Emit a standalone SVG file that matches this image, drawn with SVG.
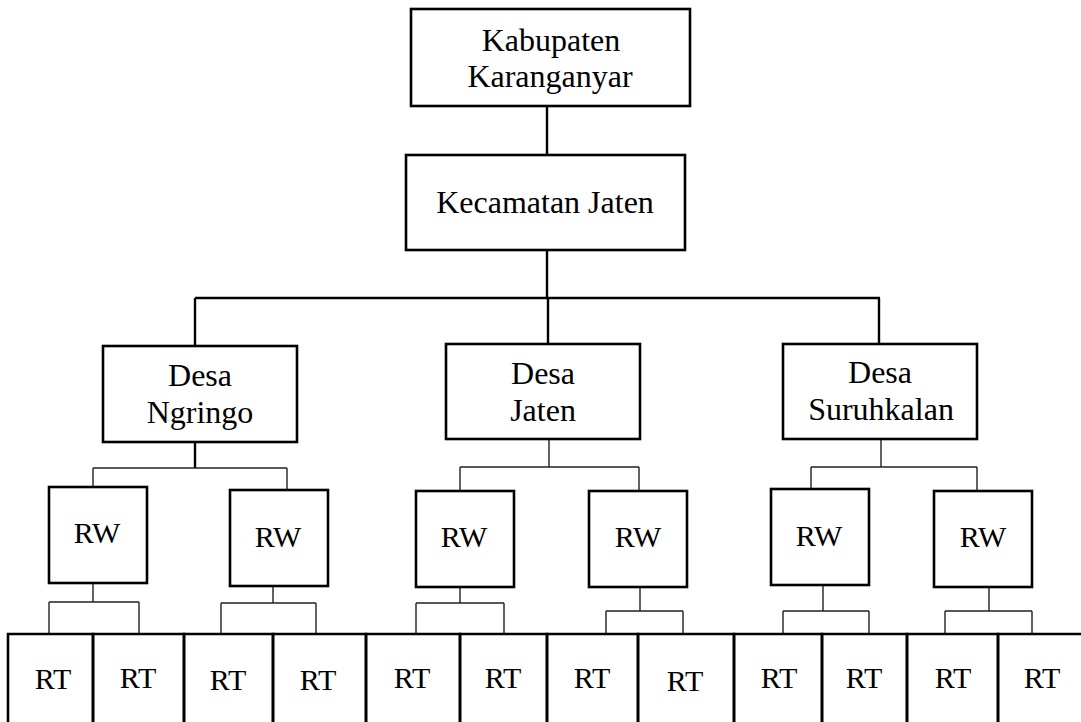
<svg xmlns="http://www.w3.org/2000/svg" width="1081" height="722" viewBox="0 0 1081 722">
<style>
.box{fill:#fff;stroke:#000;stroke-width:2.6}
.cell{fill:none;stroke:#000;stroke-width:2.6}
.thick{fill:none;stroke:#000;stroke-width:2.4}
.thin{fill:none;stroke:#222;stroke-width:1.4}
text{font-family:"Liberation Serif","Times New Roman",serif;fill:#000;text-anchor:middle}
.big{font-size:32px}
.sm{font-size:30px}
</style>
<rect width="1081" height="722" fill="#fff"/>
<g id="connectors">
<path class="thick" d="M547 106V155M547 250V298M195 298H880M195 298V346M548 298V344M879 298V344"/>
<path class="thick" d="M195 442V468"/>
<path class="thin" d="M93 468H287M93 468V487M287 468V490"/>
<path class="thin" d="M549 439V467M460 467H639M460 467V491M639 467V491"/>
<path class="thin" d="M881 439V467M811 467H977M811 467V489M977 467V491"/>
<path class="thin" d="M93 583V602M49 602H139M49 602V634M139 602V634"/>
<path class="thin" d="M273 586V603M221 603H316M221 603V634M316 603V634"/>
<path class="thin" d="M460 587V603M416 603H504M416 603V634M504 603V634"/>
<path class="thin" d="M640 587V611M606 611H683M606 611V634M683 611V634"/>
<path class="thin" d="M823 585V611M783 611H869M783 611V634M869 611V634"/>
<path class="thin" d="M989 587V611M945 611H1032M945 611V634M1032 611V634"/>
</g>
<g id="kabupaten">
<rect class="box" x="411" y="9" width="279" height="97"/>
<text class="big" x="551" y="51">Kabupaten</text>
<text class="big" x="550" y="87">Karanganyar</text>
</g>
<g id="kecamatan">
<rect class="box" x="406" y="155" width="279" height="95"/>
<text class="big" x="545" y="213">Kecamatan Jaten</text>
</g>
<g id="desa-ngringo">
<rect class="box" x="103" y="346" width="194" height="96"/>
<text class="big" x="200" y="386">Desa</text>
<text class="big" x="200" y="423">Ngringo</text>
</g>
<g id="desa-jaten">
<rect class="box" x="446" y="344" width="194" height="95"/>
<text class="big" x="543" y="384">Desa</text>
<text class="big" x="543" y="421">Jaten</text>
</g>
<g id="desa-suruhkalan">
<rect class="box" x="783" y="344" width="194" height="95"/>
<text class="big" x="880" y="383">Desa</text>
<text class="big" x="881" y="420">Suruhkalan</text>
</g>
<g id="rw1"><rect class="box" x="49" y="487" width="98" height="96"/><text class="sm" x="97" y="543">RW</text></g>
<g id="rw2"><rect class="box" x="230" y="490" width="98" height="96"/><text class="sm" x="278" y="547">RW</text></g>
<g id="rw3"><rect class="box" x="416" y="491" width="98" height="96"/><text class="sm" x="464" y="547">RW</text></g>
<g id="rw4"><rect class="box" x="589" y="491" width="98" height="96"/><text class="sm" x="638" y="547">RW</text></g>
<g id="rw5"><rect class="box" x="771" y="489" width="98" height="96"/><text class="sm" x="819" y="546">RW</text></g>
<g id="rw6"><rect class="box" x="934" y="491" width="98" height="96"/><text class="sm" x="983" y="547">RW</text></g>
<g id="rt1"><path class="cell" d="M8 723V634H93V723"/><text class="sm" x="53" y="689">RT</text></g>
<g id="rt2"><path class="cell" d="M93 723V634H184V723"/><text class="sm" x="138" y="688">RT</text></g>
<g id="rt3"><path class="cell" d="M184 723V634H273V723"/><text class="sm" x="228" y="690">RT</text></g>
<g id="rt4"><path class="cell" d="M273 723V634H366V723"/><text class="sm" x="318" y="690">RT</text></g>
<g id="rt5"><path class="cell" d="M366 723V634H460V723"/><text class="sm" x="412" y="688">RT</text></g>
<g id="rt6"><path class="cell" d="M460 723V634H547V723"/><text class="sm" x="503" y="688">RT</text></g>
<g id="rt7"><path class="cell" d="M547 723V634H638V723"/><text class="sm" x="592" y="688">RT</text></g>
<g id="rt8"><path class="cell" d="M638 723V634H734V723"/><text class="sm" x="685" y="691">RT</text></g>
<g id="rt9"><path class="cell" d="M734 723V634H822V723"/><text class="sm" x="779" y="688">RT</text></g>
<g id="rt10"><path class="cell" d="M822 723V634H907V723"/><text class="sm" x="864" y="688">RT</text></g>
<g id="rt11"><path class="cell" d="M907 723V634H998V723"/><text class="sm" x="953" y="688">RT</text></g>
<g id="rt12"><path class="cell" d="M998 723V634H1082"/><text class="sm" x="1042" y="688">RT</text></g>
</svg>
